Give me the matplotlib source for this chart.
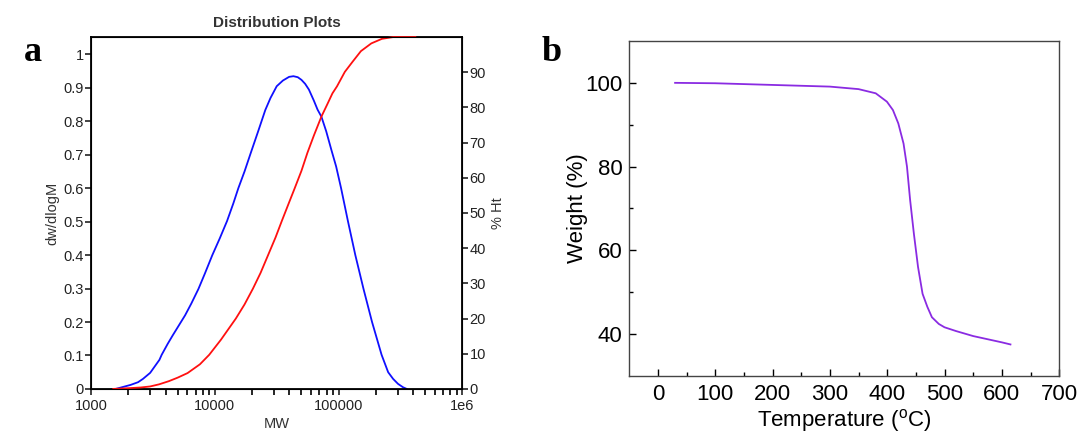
import matplotlib
matplotlib.use("Agg")
import matplotlib.pyplot as plt
import numpy as np
from matplotlib.ticker import FixedLocator, LogLocator, NullFormatter

# panel a: molecular weight distribution (log10 MW vs dw/dlogM and cumulative % Ht)
blue_logmw = [3.20, 3.25, 3.32, 3.38, 3.42, 3.478, 3.553, 3.571, 3.62, 3.66, 3.71, 3.76,
              3.81, 3.868, 3.92, 3.98, 4.04, 4.099, 4.15, 4.19, 4.24, 4.29, 4.35, 4.408,
              4.45, 4.50, 4.55, 4.60, 4.635, 4.67, 4.70, 4.73, 4.76, 4.80, 4.83, 4.861,
              4.90, 4.942, 4.98, 5.02, 5.075, 5.135, 5.201, 5.27, 5.347, 5.40, 5.44, 5.48,
              5.52, 5.55]
blue_dw = [0.0, 0.005, 0.012, 0.02, 0.03, 0.048, 0.087, 0.102, 0.135, 0.16, 0.19, 0.22,
           0.255, 0.299, 0.345, 0.40, 0.45, 0.502, 0.555, 0.60, 0.65, 0.705, 0.77, 0.834,
           0.87, 0.905, 0.922, 0.933, 0.935, 0.932, 0.924, 0.912, 0.895, 0.862, 0.835, 0.814,
           0.77, 0.714, 0.665, 0.60, 0.502, 0.40, 0.299, 0.20, 0.102, 0.05, 0.03, 0.015,
           0.005, 0.0]

red_logmw = [3.18, 3.30, 3.40, 3.478, 3.55, 3.629, 3.70, 3.78, 3.88, 3.955, 4.05, 4.17,
             4.24, 4.308, 4.37, 4.43, 4.49, 4.542, 4.60, 4.645, 4.70, 4.748, 4.80, 4.861,
             4.91, 4.95, 4.987, 5.05, 5.113, 5.18, 5.264, 5.35, 5.44, 5.62]
red_ht = [0.0, 0.2, 0.4, 0.7, 1.3, 2.2, 3.2, 4.5, 7.0, 9.7, 14.0, 20.0,
          24.0, 28.5, 33.0, 38.0, 43.0, 47.8, 53.0, 57.0, 62.0, 67.1, 72.0, 77.4,
          81.0, 84.0, 86.0, 90.1, 93.0, 96.0, 98.2, 99.5, 100.0, 100.0]

# panel b: TGA
temp_c = [30, 100, 200, 300, 350, 380, 399.5, 410, 419.4, 428.5, 434.5, 440, 446.6,
          453.8, 461.7, 470, 478, 490, 500, 520, 550, 600, 615]
weight_pct = [100.0, 99.9, 99.5, 99.1, 98.5, 97.5, 95.5, 93.5, 90.3, 85.5, 80.0, 72.0,
              63.9, 56.0, 49.6, 46.5, 44.0, 42.4, 41.6, 40.7, 39.5, 38.0, 37.5]

plt.rcParams["font.family"] = ["Liberation Sans", "DejaVu Sans"]

fig = plt.figure(figsize=(10.83, 4.36), dpi=100)

# ---- panel a
ax = fig.add_axes([0.084, 0.108, 0.343, 0.807])
ax.plot(10 ** np.array(blue_logmw), blue_dw, color="#1010ff", lw=1.3)
ax.set_xscale("log")
ax.set_xlim(1e3, 1e6)
ax.set_ylim(0, 1.052)
ax.set_yticks(np.arange(0, 1.01, 0.1))
ax.set_yticklabels(["0", "0.1", "0.2", "0.3", "0.4", "0.5", "0.6", "0.7", "0.8", "0.9", "1"])
ax.xaxis.set_major_locator(FixedLocator([1e3, 1e4, 1e5, 1e6]))
ax.set_xticklabels(["1000", "10000", "100000", "1e6"])
ax.xaxis.set_minor_locator(LogLocator(base=10, subs=np.arange(2, 10)))
ax.xaxis.set_minor_formatter(NullFormatter())
ax.tick_params(axis="both", which="major", direction="out", length=4, width=1.2,
               labelsize=10.5, colors="#222222", pad=1)
ax.tick_params(axis="x", which="major", pad=3)
ax.tick_params(axis="x", which="minor", direction="out", length=4, width=1.2)
ax.set_xlabel("MW", fontsize=10.5, color="#333333", labelpad=3)
ax.set_ylabel("dw/dlogM", fontsize=10.5, color="#333333", labelpad=3)
ax.set_title("Distribution Plots", fontsize=11, fontweight="bold", color="#333333", pad=7)
for s in ax.spines.values():
    s.set_linewidth(1.3)

ax2 = ax.twinx()
ax2.plot(10 ** np.array(red_logmw), red_ht, color="#ff1010", lw=1.3, clip_on=False)
ax2.set_ylim(0, 100)
ax2.set_yticks(np.arange(0, 91, 10))
ax2.tick_params(axis="y", direction="out", length=4, width=1.2, labelsize=10.5,
                colors="#222222", pad=1)
ax2.set_ylabel("% Ht", fontsize=10.5, color="#333333")
ax2.yaxis.set_label_coords(1.077, 0.5)

fig.text(0.022, 0.86, "a", fontsize=26, fontweight="bold", family="Liberation Serif")

# ---- panel b
bx = fig.add_axes([0.581, 0.138, 0.397, 0.768])
bx.plot(temp_c, weight_pct, color="#8a2be2", lw=1.3)
bx.set_xlim(-50, 700)
bx.set_ylim(30, 110)
bx.set_xticks(np.arange(0, 701, 100))
bx.set_xticks(np.arange(50, 700, 100), minor=True)
bx.set_yticks([40, 60, 80, 100])
bx.set_yticks([50, 70, 90], minor=True)
bx.tick_params(axis="both", which="major", direction="in", length=5, width=1,
               labelsize=16, pad=5)
bx.tick_params(axis="x", which="major", pad=6)
bx.tick_params(axis="both", which="minor", direction="in", length=3, width=1)
bx.set_xlabel(r"Temperature ($\mathregular{^{o}}$C)", fontsize=16, labelpad=1)
bx.set_ylabel("Weight (%)", fontsize=16)
bx.yaxis.set_label_coords(-0.095, 0.5)
for s in bx.spines.values():
    s.set_linewidth(1.0)
    s.set_color("#444444")

fig.text(0.5, 0.86, "b", fontsize=26, fontweight="bold", family="Liberation Serif")

fig.savefig("out.png", dpi=100)
